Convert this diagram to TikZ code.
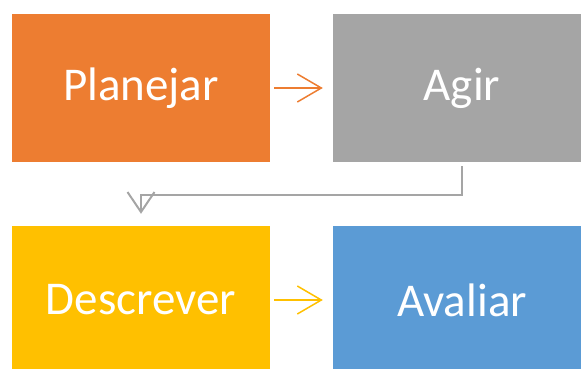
\documentclass[tikz,border=0pt]{standalone}
\usepackage{fontspec}
\setmainfont{Carlito}
\usetikzlibrary{arrows.meta}
\definecolor{cOrange}{HTML}{ED7D31}
\definecolor{cGray}{HTML}{A5A5A5}
\definecolor{cYellow}{HTML}{FFC000}
\definecolor{cBlue}{HTML}{5B9BD5}
\tikzset{
  box/.style={rectangle, inner sep=0pt, minimum width=258pt, minimum height=148pt,
    text=white, font=\fontsize{47}{50}\selectfont},
  flow/.style={line width=1.5pt, shorten <=4pt, shorten >=10pt,
    -{Straight Barb[length=24pt,width=28pt]}},
  elbow/.style={line width=2pt, draw=cGray, shorten <=4pt, shorten >=12pt,
    -{Straight Barb[length=20pt,width=27pt]}}
}
\begin{document}
\begin{tikzpicture}[x=1pt,y=-1pt]
\useasboundingbox (0,0) rectangle (581,368);
\begin{scope}
\clip (0,0) rectangle (581,368);
\node[box, fill=cOrange] (plan) at (141,88) {Planejar};
\node[box, fill=cGray] (agir) at (462,88) {Agir};
\node[box, fill=cYellow] (desc) at (141,300) {Descrever};
\node[box, fill=cBlue] (aval) at (462,300) {Avaliar};
\end{scope}
\draw[flow, draw=cOrange] (plan.east) -- (agir.west);
\draw[flow, draw=cYellow] (desc.east) -- (aval.west);
\draw[elbow] (agir.south) -- ++(0,33) -| (desc.north);
\end{tikzpicture}
\end{document}
